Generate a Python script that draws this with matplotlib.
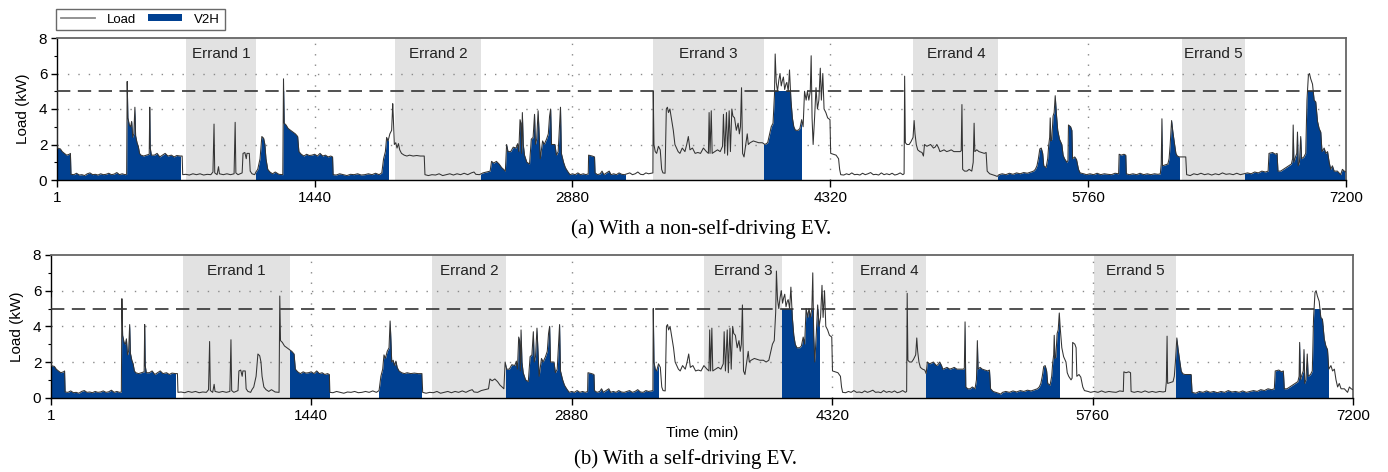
import numpy as np
import matplotlib
matplotlib.use("Agg")
import matplotlib.pyplot as plt
from matplotlib.patches import Rectangle, Patch
from matplotlib.lines import Line2D

plt.rcParams["font.family"] = ["Liberation Sans", "DejaVu Sans"]

# ---------------------------------------------------------------------------
# household load (minute, kW), one list per day
# ---------------------------------------------------------------------------
day1 = [(1, 5.6), (3, 1.8), (20, 1.75), (30, 1.6), (42, 1.5), (55, 1.4), (70, 1.45), (76, 1.5), (79, 0.32),
        (95, 0.3), (110, 0.38), (125, 0.28), (140, 0.3), (155, 0.25), (170, 0.35), (185, 0.4), (200, 0.3),
        (215, 0.32), (230, 0.28), (245, 0.35), (260, 0.3), (275, 0.32), (290, 0.38), (305, 0.3), (320, 0.33),
        (335, 0.42), (350, 0.3), (365, 0.35), (380, 0.3), (390, 0.32),
        (393, 5.55), (397, 3.5), (405, 3.1), (412, 3.0), (418, 3.3), (424, 2.4), (430, 2.6), (436, 4.1),
        (440, 2.5), (448, 2.1), (455, 1.9), (462, 1.5), (470, 1.4), (485, 1.35), (500, 1.4), (516, 1.45),
        (519, 4.1), (522, 1.8), (528, 1.4), (545, 1.4), (560, 1.5), (575, 1.3), (590, 1.4), (605, 1.5),
        (620, 1.35), (640, 1.4), (655, 1.3), (670, 1.38), (690, 1.35), (700, 1.35), (703, 0.3),
        (720, 0.32), (740, 0.28), (760, 0.35), (780, 0.3), (800, 0.35), (820, 0.28), (840, 0.32), (860, 0.3),
        (872, 0.45), (878, 3.15), (882, 0.4), (895, 0.3), (903, 0.75), (908, 0.35), (930, 0.3), (950, 0.35),
        (970, 0.3), (990, 0.35), (996, 3.25), (1000, 0.4), (1012, 0.3), (1035, 0.4), (1040, 1.5), (1050, 1.55),
        (1058, 1.2), (1062, 1.5), (1075, 1.5), (1080, 0.5), (1090, 0.35), (1105, 0.3), (1112, 0.45),
        (1122, 0.6), (1135, 1.2), (1145, 2.45), (1155, 2.35), (1162, 2.0), (1168, 1.2), (1178, 0.6),
        (1190, 0.45), (1205, 0.35), (1220, 0.45), (1240, 0.32), (1262, 0.3), (1266, 5.7), (1270, 3.2),
        (1280, 3.1), (1292, 2.9), (1305, 2.8), (1318, 2.7), (1332, 2.6), (1345, 2.45), (1352, 1.6),
        (1365, 1.45), (1380, 1.35), (1395, 1.45), (1410, 1.38), (1425, 1.4), (1440, 1.45)]

day2 = [(1455, 1.35), (1470, 1.5), (1485, 1.35), (1500, 1.4), (1515, 1.3), (1530, 1.35), (1540, 1.3),
        (1543, 0.3), (1560, 0.28), (1580, 0.35), (1600, 0.3), (1620, 0.25), (1640, 0.32), (1660, 0.3),
        (1680, 0.35), (1700, 0.28), (1720, 0.3), (1740, 0.35), (1760, 0.3), (1780, 0.38), (1800, 0.3),
        (1815, 0.4), (1825, 1.2), (1835, 1.6), (1842, 2.4), (1850, 2.2), (1860, 2.6), (1870, 2.8),
        (1876, 4.3), (1879, 3.6), (1885, 2.0), (1893, 2.1), (1900, 1.8), (1908, 2.05), (1915, 1.7),
        (1925, 1.5), (1940, 1.4), (1955, 1.35), (1970, 1.4), (1990, 1.35), (2010, 1.38), (2030, 1.35),
        (2052, 1.35), (2056, 0.3), (2075, 0.25), (2095, 0.3), (2115, 0.28), (2135, 0.35), (2155, 0.25),
        (2175, 0.3), (2195, 0.35), (2215, 0.28), (2235, 0.35), (2255, 0.3), (2275, 0.38), (2295, 0.3),
        (2315, 0.4), (2330, 0.45), (2340, 0.32), (2360, 0.3), (2380, 0.4), (2400, 0.45), (2420, 0.5),
        (2428, 1.05), (2440, 0.95), (2455, 1.05), (2470, 0.9), (2484, 0.7), (2495, 0.6), (2505, 0.5),
        (2512, 2.0), (2520, 1.6), (2535, 1.6), (2549, 1.85), (2565, 1.8), (2574, 2.05), (2580, 1.6),
        (2587, 3.4), (2592, 3.2), (2596, 1.5), (2600, 3.8), (2605, 2.0), (2612, 1.4), (2625, 1.0),
        (2640, 0.9), (2650, 2.3), (2660, 2.4), (2668, 3.7), (2673, 2.0), (2680, 2.3), (2688, 3.9),
        (2694, 2.5), (2700, 1.2), (2713, 2.2), (2722, 2.0), (2735, 2.3), (2745, 2.6), (2752, 3.6),
        (2758, 4.0), (2763, 2.0), (2782, 2.0), (2790, 1.4), (2800, 1.6), (2813, 4.1), (2818, 1.5),
        (2830, 1.0), (2840, 0.7), (2852, 0.5), (2866, 0.3), (2880, 0.35)]

day3 = [(2895, 0.3), (2910, 0.4), (2925, 0.3), (2940, 0.35), (2955, 0.3), (2968, 0.35), (2970, 1.4),
        (2990, 1.35), (3003, 1.3), (3006, 0.4), (3020, 0.3), (3035, 0.35), (3045, 0.5), (3055, 0.3),
        (3070, 0.4), (3085, 0.5), (3095, 0.3), (3110, 0.35), (3125, 0.3), (3140, 0.4), (3155, 0.32),
        (3170, 0.3), (3185, 0.35), (3200, 0.4), (3215, 0.3), (3230, 0.35), (3245, 0.45), (3260, 0.32),
        (3275, 0.3), (3290, 0.4), (3305, 0.35), (3320, 0.38), (3329, 0.4), (3331, 5.0), (3335, 2.0),
        (3342, 1.6), (3350, 1.5), (3360, 1.9), (3370, 1.7), (3378, 0.6), (3385, 0.4), (3397, 0.38),
        (3404, 4.0), (3410, 4.1), (3416, 3.8), (3424, 4.0), (3432, 3.5), (3443, 2.8), (3452, 2.0),
        (3461, 1.8), (3470, 1.6), (3480, 1.5), (3493, 1.8), (3508, 1.6), (3518, 2.0), (3527, 2.45),
        (3536, 1.7), (3550, 1.8), (3565, 1.5), (3580, 1.55), (3595, 1.5), (3611, 1.8), (3628, 1.6),
        (3639, 1.5), (3643, 3.8), (3648, 1.5), (3655, 3.9), (3660, 1.5), (3675, 1.6), (3690, 1.7),
        (3705, 1.6), (3718, 1.9), (3723, 3.7), (3730, 1.5), (3740, 3.8), (3746, 1.4), (3755, 3.9),
        (3762, 1.6), (3770, 4.0), (3776, 3.6), (3785, 3.5), (3795, 2.8), (3805, 3.2), (3812, 2.6),
        (3818, 3.0), (3824, 5.2), (3830, 1.5), (3838, 1.3), (3848, 2.0), (3856, 2.6), (3862, 2.0),
        (3872, 2.1), (3890, 2.2), (3905, 2.15), (3920, 2.1), (3940, 2.1), (3955, 2.0), (3970, 2.1),
        (3978, 2.45), (3990, 3.0), (4000, 3.2), (4008, 4.8), (4012, 7.1), (4018, 5.5), (4025, 5.0),
        (4032, 5.6), (4039, 6.0), (4046, 5.3), (4052, 5.6), (4058, 5.8), (4065, 5.1), (4072, 5.4),
        (4077, 5.5), (4085, 5.0), (4092, 6.2), (4100, 4.5), (4108, 3.5), (4116, 3.0), (4125, 2.8),
        (4140, 2.8), (4150, 2.9), (4160, 3.4), (4168, 3.0), (4176, 5.0), (4185, 4.5), (4192, 5.0),
        (4200, 4.5), (4208, 5.0), (4213, 7.0), (4218, 3.5), (4224, 2.0), (4232, 3.5), (4240, 5.2),
        (4248, 4.0), (4256, 4.5), (4264, 6.3), (4270, 4.5), (4278, 6.0), (4285, 4.0), (4295, 3.8),
        (4305, 3.5), (4318, 3.4)]

day4 = [(4322, 1.5), (4338, 1.45), (4352, 1.4), (4366, 1.2), (4372, 0.6), (4378, 0.3), (4395, 0.28),
        (4410, 0.35), (4425, 0.3), (4440, 0.4), (4455, 0.3), (4470, 0.32), (4485, 0.28), (4500, 0.38),
        (4515, 0.3), (4530, 0.35), (4545, 0.42), (4560, 0.3), (4575, 0.32), (4590, 0.28), (4605, 0.4),
        (4620, 0.3), (4635, 0.35), (4650, 0.3), (4665, 0.38), (4680, 0.28), (4695, 0.32), (4710, 0.4),
        (4725, 0.3), (4732, 0.35), (4735, 5.85), (4739, 2.1), (4748, 2.0), (4760, 2.0), (4770, 2.15),
        (4782, 2.4), (4788, 3.35), (4793, 2.6), (4800, 2.0), (4808, 1.7), (4820, 1.6), (4832, 1.55),
        (4840, 1.35), (4846, 2.0), (4859, 1.9), (4870, 1.95), (4880, 2.0), (4896, 1.8), (4905, 1.85),
        (4915, 2.0), (4925, 1.8), (4932, 1.6), (4945, 1.65), (4955, 1.7), (4970, 1.6), (4985, 1.65),
        (4995, 1.7), (5010, 1.6), (5027, 1.6), (5045, 1.6), (5051, 1.65), (5055, 4.25), (5059, 0.6),
        (5070, 0.5), (5083, 0.5), (5095, 0.6), (5110, 0.5), (5118, 1.0), (5123, 3.2), (5127, 1.6),
        (5138, 1.7), (5150, 1.6), (5165, 1.55), (5180, 1.5), (5190, 1.55), (5196, 0.5), (5210, 0.35),
        (5225, 0.3), (5240, 0.25), (5252, 0.2), (5262, 0.3), (5280, 0.35), (5300, 0.3), (5320, 0.38),
        (5340, 0.32), (5360, 0.4), (5380, 0.35), (5400, 0.42), (5420, 0.38), (5440, 0.45), (5455, 0.5),
        (5465, 0.6), (5474, 0.8), (5482, 1.2), (5490, 1.75), (5498, 1.8), (5506, 1.5), (5512, 0.8),
        (5525, 0.7), (5534, 1.2), (5540, 2.0), (5545, 2.4), (5548, 3.5), (5552, 2.2), (5557, 2.3),
        (5564, 3.6), (5570, 3.8), (5576, 4.75), (5582, 3.8), (5590, 2.8), (5600, 2.3), (5613, 2.0),
        (5620, 1.4), (5628, 1.2), (5641, 1.0), (5647, 1.1), (5650, 3.1), (5662, 3.0), (5669, 2.8),
        (5673, 1.2), (5685, 1.3), (5695, 1.15), (5706, 0.6), (5715, 0.4), (5735, 0.35), (5750, 0.3)]

day5 = [(5770, 0.35), (5790, 0.3), (5810, 0.38), (5830, 0.3), (5850, 0.35), (5870, 0.32), (5890, 0.3),
        (5910, 0.38), (5930, 0.35), (5933, 1.45), (5945, 1.4), (5960, 1.45), (5970, 1.4), (5973, 0.35),
        (5990, 0.3), (6010, 0.35), (6030, 0.3), (6050, 0.38), (6070, 0.3), (6090, 0.35), (6110, 0.3),
        (6130, 0.35), (6150, 0.32), (6163, 0.35), (6168, 0.9), (6172, 3.45), (6175, 0.8), (6190, 0.85),
        (6205, 0.9), (6212, 1.2), (6218, 2.0), (6226, 3.35), (6232, 2.8), (6240, 2.2), (6250, 1.5),
        (6258, 1.35), (6270, 1.3), (6285, 1.3), (6305, 1.3), (6310, 0.3), (6330, 0.25), (6350, 0.35),
        (6370, 0.3), (6390, 0.38), (6410, 0.3), (6430, 0.35), (6450, 0.28), (6470, 0.35), (6490, 0.3),
        (6510, 0.4), (6530, 0.32), (6550, 0.35), (6570, 0.3), (6590, 0.38), (6610, 0.3), (6630, 0.35),
        (6650, 0.4), (6670, 0.35), (6690, 0.45), (6710, 0.4), (6730, 0.5), (6750, 0.45), (6765, 0.5),
        (6770, 1.5), (6790, 1.55), (6805, 1.45), (6815, 1.5), (6820, 0.5), (6835, 0.5), (6850, 0.6),
        (6865, 0.7), (6880, 0.8), (6895, 0.9), (6902, 1.2), (6905, 3.1), (6909, 1.0), (6918, 1.3),
        (6925, 1.5), (6929, 2.7), (6933, 0.8), (6940, 1.0), (6947, 2.45), (6952, 1.2), (6965, 1.3),
        (6975, 1.5), (6982, 4.5), (6990, 5.9), (6996, 6.0), (7003, 5.7), (7013, 5.4), (7022, 4.5),
        (7031, 4.4), (7041, 3.3), (7050, 2.9), (7059, 2.7), (7066, 1.6), (7078, 1.8), (7087, 1.5),
        (7097, 1.6), (7106, 1.0), (7115, 0.6), (7124, 0.8), (7134, 0.5), (7152, 0.5), (7170, 0.3),
        (7180, 0.6), (7190, 0.5), (7200, 0.45)]

# errand windows and V2H discharge windows (minutes)
errands_a = [(724, 1112), (1890, 2367), (3332, 3950), (4784, 5258), (6284, 6638)]
errands_b = [(731, 1325), (2108, 2519), (3610, 4043), (4436, 4841), (5766, 6223)]
v2h_a = [(1, 687), (1112, 1850), (2367, 3176), (3950, 4157), (5258, 6269), (6638, 7200)]
v2h_b = [(1, 689), (1325, 1538), (1815, 2049), (2519, 3357), (4043, 4245), (4841, 5572), (6223, 7061)]

V2H_CAP = 5.0          # kW, dashed line
XTICKS = [1, 1440, 2880, 4320, 5760, 7200]

pts = np.array(day1 + day2 + day3 + day4 + day5)
t, load = pts[:, 0], pts[:, 1]

BLUE = "#004091"
SHADE = "#e2e2e2"

fig = plt.figure(figsize=(13.88, 4.72), dpi=100)
ax_a = fig.add_axes([57 / 1388, 1 - 180 / 472, 1289 / 1388, 142 / 472])
ax_b = fig.add_axes([51 / 1388, 1 - 397.7 / 472, 1302 / 1388, 142.7 / 472])


def draw_panel(ax, errands, v2h):
    for i, (s, e) in enumerate(errands):
        ax.axvspan(s, e, color=SHADE, lw=0, zorder=0)
        ax.text((s + e) / 2, 7.12, f"Errand {i + 1}", ha="center", va="center",
                fontsize=11, color="#222222", zorder=5)
    for y in (2, 4, 6):
        ax.axhline(y, color="#8a8a8a", lw=1.0, dashes=(1, 6.5), zorder=1)
    for x in XTICKS[1:-1]:
        ax.axvline(x, color="#8a8a8a", lw=1.0, dashes=(1, 6.5), zorder=1)
    # V2H = the part of the load served by the car, capped at 5 kW
    for s, e in v2h:
        poly = ax.fill_between(t, 0, load, color=BLUE, lw=0, zorder=2)
        poly.set_clip_path(Rectangle((s, 0), e - s, V2H_CAP, transform=ax.transData))
    ax.plot(t, load, color="#333333", lw=0.75, zorder=3)
    ax.axhline(V2H_CAP, color="#333333", lw=1.2, dashes=(8, 4.5), zorder=4)

    ax.set_xlim(1, 7200)
    ax.set_ylim(0, 8)
    ax.set_xticks(XTICKS)
    ax.set_yticks([0, 2, 4, 6, 8])
    ax.set_yticks([1, 3, 5, 7], minor=True)
    ax.tick_params(axis="both", which="major", direction="out", length=4, width=1,
                   labelsize=11, pad=3)
    ax.tick_params(axis="y", which="minor", direction="out", length=2.5, width=0.8)
    ax.tick_params(axis="x", which="major", length=5)
    ax.set_ylabel("Load (kW)", fontsize=11, labelpad=6)
    for side in ("left", "bottom"):
        ax.spines[side].set_color("black")
        ax.spines[side].set_linewidth(1.0)
    for side in ("top", "right"):
        ax.spines[side].set_color("#666666")
        ax.spines[side].set_linewidth(1.3)


draw_panel(ax_a, errands_a, v2h_a)
draw_panel(ax_b, errands_b, v2h_b)
ax_b.set_xlabel("Time (min)", fontsize=11, labelpad=2)

fig.text(701 / 1388, 1 - 229 / 472, "(a) With a non-self-driving EV.", ha="center", va="center",
         fontsize=15, family=["Liberation Serif", "DejaVu Serif"])
fig.text(686 / 1388, 1 - 459 / 472, "(b) With a self-driving EV.", ha="center", va="center",
         fontsize=15, family=["Liberation Serif", "DejaVu Serif"])

handles = [Line2D([], [], color="#8a8a8a", lw=1.3),
           Patch(facecolor=BLUE, edgecolor="none")]
fig.legend(handles, ["Load", "V2H"], loc="upper left", bbox_to_anchor=(56 / 1388, 1 - 9 / 472),
           ncol=2, fontsize=9.5, frameon=True, fancybox=False, edgecolor="#444444",
           handlelength=2.6, handleheight=0.45, handletextpad=0.9, columnspacing=0.9,
           borderpad=0.35, borderaxespad=0)

fig.savefig("out.png", dpi=100)
